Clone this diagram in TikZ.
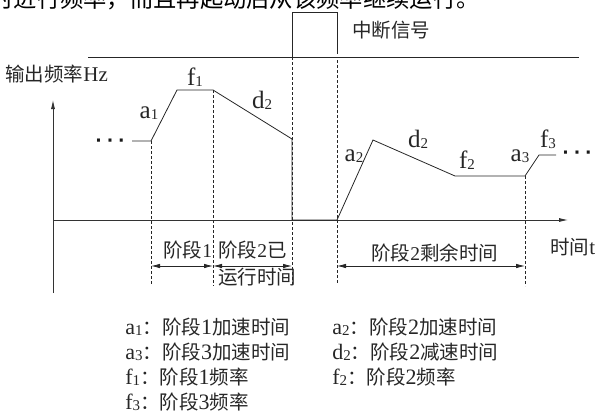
\documentclass[tikz,border=0pt]{standalone}
\usepackage{fontspec}
\setmainfont{Liberation Serif}
\newfontfamily\zh{Noto Sans CJK SC}
\newfontfamily\dotfont{DejaVu Sans}
\usetikzlibrary{arrows.meta}
\newcommand\lblsub[1]{\raisebox{-1.5pt}{\fontsize{15}{15}\selectfont #1}}
\newcommand\legsub[1]{\raisebox{-1pt}{\fontsize{15}{15}\selectfont #1}}
\begin{document}
\begin{tikzpicture}[x=1pt,y=-1pt,line width=0.8pt,
  curve/.style={draw=black!85, line join=miter},
  guide/.style={draw=black!85, dash pattern=on 3pt off 2pt, line width=0.7pt},
  dimarrow/.style={draw=black!85, {Latex[length=9pt,width=4.5pt]}-{Latex[length=9pt,width=4.5pt]}},
  axisarrow/.style={draw=black!80, -{Latex[length=9pt,width=4pt]}},
  lbl/.style={inner sep=0pt, anchor=base, text=black!85, font=\fontsize{25}{27}\selectfont},
  zhtxt/.style={inner sep=0pt, anchor=base west, text=black!85, font=\zh\fontsize{19.5}{21}\selectfont},
  legtxt/.style={inner sep=0pt, anchor=base west, text=black!85, font=\fontsize{22}{24}\selectfont},
  dotstxt/.style={inner sep=0pt, anchor=base, text=black!90, font=\dotfont\bfseries\fontsize{17}{18}\selectfont}]
\useasboundingbox (0,0) rectangle (600,415);

% cropped text from the page above
\node[inner sep=0pt, anchor=base west, font=\zh\fontsize{23.3}{25}\selectfont] (toptext) at (-10,7)
  {时进行频率，而且再起动后从该频率继续运行。};

% interrupt signal
\coordinate (s0) at (88,57);
\coordinate (s1) at (579,57);
\coordinate (u0) at (292,57);
\coordinate (u1) at (292,12);
\coordinate (u2) at (337,12);
\coordinate (u3) at (337,54);
\draw[curve] (s0) -- (s1);
\draw[curve] (u0) -- (u1) -- (u2) -- (u3);
\node[zhtxt] (sig) at (352,37) {中断信号};

% axes
\coordinate (O) at (53,220);
\coordinate (xe) at (568,220);
\coordinate (yb) at (53,293);
\coordinate (ye) at (53,100);
\draw[axisarrow] (yb) -- (ye);
\draw[axisarrow] (O) -- (xe);
\node[zhtxt] (ylab) at (5,81) {输出频率\fontspec{Liberation Serif}\fontsize{21}{22}\selectfont Hz};
\node[zhtxt] (xlab) at (550,254) {时间\fontspec{Liberation Serif}\fontsize{21}{22}\selectfont t};

% frequency curve
\coordinate (p0) at (132,141);
\coordinate (p1) at (151,141);
\coordinate (p2) at (177,90);
\coordinate (p3) at (213,90);
\coordinate (p4) at (292,139);
\coordinate (p5) at (292,220);
\coordinate (p6) at (337,220);
\coordinate (p7) at (373,140);
\coordinate (p8) at (455,176);
\coordinate (p9) at (525,176);
\coordinate (p10) at (539,155);
\coordinate (p11) at (556,155);
\draw[curve] (p0) -- (p1) -- (p2) -- (p3) -- (p4) -- (p5) -- (p6) -- (p7) -- (p8) -- (p9) -- (p10) -- (p11);
\node[dotstxt] (dots1) at (110,146.5) {·\hspace{5pt}·\hspace{5pt}·};
\node[dotstxt] (dots2) at (577,158.5) {·\hspace{5pt}·\hspace{5pt}·};

% curve labels
\node[lbl] (la1) at (149,118) {a\lblsub{1}};
\node[lbl] (lf1) at (195,85) {f\lblsub{1}};
\node[lbl] (ld2a) at (262,108) {d\lblsub{2}};
\node[lbl] (la2) at (354,161) {a\lblsub{2}};
\node[lbl] (ld2b) at (418,147) {d\lblsub{2}};
\node[lbl] (lf2) at (467,168) {f\lblsub{2}};
\node[lbl] (la3) at (520,161) {a\lblsub{3}};
\node[lbl] (lf3) at (548,147) {f\lblsub{3}};

% dashed guides
\coordinate (g1) at (151,284);
\coordinate (g2) at (213,286);
\coordinate (g3) at (292,286);
\coordinate (g3t) at (337,60);
\coordinate (g4) at (337,284);
\coordinate (g5) at (525,286);
\draw[guide] (p1) -- (g1);
\draw[guide] (p3) -- (g2);
\draw[guide] (u0) -- (g3);
\draw[guide] (g3t) -- (g4);
\draw[guide] (p9) -- (g5);

% dimension arrows
\coordinate (d1) at (151,266);
\coordinate (d2) at (213,266);
\coordinate (d3) at (292,266);
\coordinate (d4) at (337,266);
\coordinate (d5) at (525,266);
\draw[dimarrow] (d1) -- (d2);
\draw[dimarrow] (d2) -- (d3);
\draw[dimarrow] (d4) -- (d5);
\node[zhtxt] (t1) at (163,257) {阶段\fontspec{Liberation Serif}1};
\node[zhtxt] (t2) at (218,257) {阶段\fontspec{Liberation Serif}2\zh 已};
\node[zhtxt] (t3) at (218,284) {运行时间};
\node[zhtxt] (t4) at (371,260) {阶段\fontspec{Liberation Serif}2\zh 剩余时间};

% legend
\node[legtxt] (lg1) at (125,334) {a\legsub{1}{\zh\fontsize{19.5}{21}\selectfont ：阶段}1{\zh\fontsize{19.5}{21}\selectfont 加速时间}};
\node[legtxt] (lg2) at (332,334) {a\legsub{2}{\zh\fontsize{19.5}{21}\selectfont ：阶段}2{\zh\fontsize{19.5}{21}\selectfont 加速时间}};
\node[legtxt] (lg3) at (125,359) {a\legsub{3}{\zh\fontsize{19.5}{21}\selectfont ：阶段}3{\zh\fontsize{19.5}{21}\selectfont 加速时间}};
\node[legtxt] (lg4) at (332,359) {d\legsub{2}{\zh\fontsize{19.5}{21}\selectfont ：阶段}2{\zh\fontsize{19.5}{21}\selectfont 减速时间}};
\node[legtxt] (lg5) at (125,384) {f\legsub{1}{\zh\fontsize{19.5}{21}\selectfont ：阶段}1{\zh\fontsize{19.5}{21}\selectfont 频率}};
\node[legtxt] (lg6) at (332,384) {f\legsub{2}{\zh\fontsize{19.5}{21}\selectfont ：阶段}2{\zh\fontsize{19.5}{21}\selectfont 频率}};
\node[legtxt] (lg7) at (125,409) {f\legsub{3}{\zh\fontsize{19.5}{21}\selectfont ：阶段}3{\zh\fontsize{19.5}{21}\selectfont 频率}};
\end{tikzpicture}
\end{document}
